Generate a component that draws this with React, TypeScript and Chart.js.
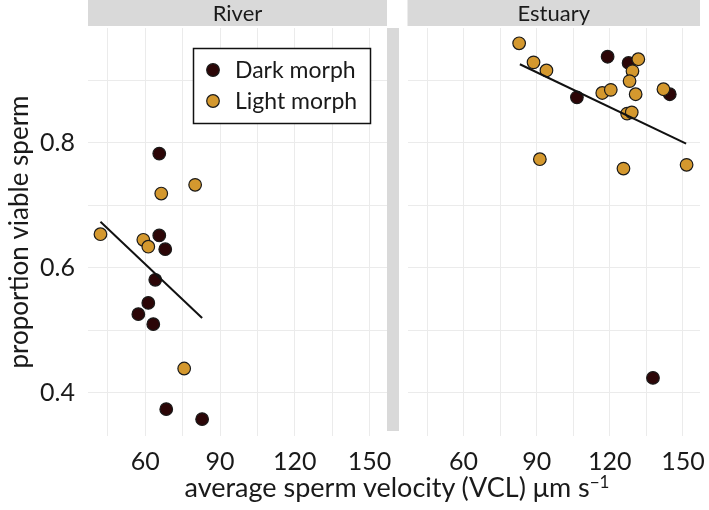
import React, { useEffect, useRef } from "react";
import { Chart, registerables } from "chart.js";

Chart.register(...registerables);

// ---------- data ----------
const panels = ["River", "Estuary"];
const seriesLabels = ["Dark morph", "Light morph"];

const riverDarkX = [65.6, 65.6, 68, 64, 61.2, 57.2, 63.2, 68.4, 82.8];
const riverDarkY = [0.783, 0.652, 0.63, 0.581, 0.544, 0.526, 0.51, 0.374, 0.358];
const riverLightX = [42, 59.2, 61.2, 66.4, 80, 75.6];
const riverLightY = [0.654, 0.645, 0.634, 0.719, 0.733, 0.439];
const riverFitX = [42, 82.8];
const riverFitY = [0.674, 0.52];

const estuaryDarkX = [119.1, 127.7, 106.5, 144.6, 137.7];
const estuaryDarkY = [0.938, 0.928, 0.873, 0.878, 0.424];
const estuaryLightX = [82.8, 88.7, 94.0, 91.3, 116.9, 120.4, 131.7, 129.3, 128.1, 130.6, 127.1, 129.0, 142.0, 125.6, 151.5];
const estuaryLightY = [0.9595, 0.929, 0.916, 0.774, 0.88, 0.885, 0.934, 0.915, 0.899, 0.878, 0.847, 0.849, 0.886, 0.759, 0.765];
const estuaryFitX = [83.1, 151.3];
const estuaryFitY = [0.926, 0.799];

const xMajorTicks = [60, 90, 120, 150];
const xMinorTicks = [45, 75, 105, 135];
const yMajorTicks = [0.4, 0.6, 0.8];
const yMinorTicks = [0.5, 0.7, 0.9];
const xRange = [37, 157];
const yRange = [0.331, 0.984];

const yTitle = "proportion viable sperm";

// ---------- styles ----------
const FONT = "Lato, 'Open Sans', sans-serif";
const DARK = "#2c0607";
const LIGHT = "#d4982e";
const GRID = "#ebebeb";
const STRIP = "#d9d9d9";
const TEXT = "#1a1a1a";

const zip = (xs: number[], ys: number[]) => xs.map((x, i) => ({ x, y: ys[i] }));

function makeDatasets(dx: number[], dy: number[], lx: number[], ly: number[], fx: number[], fy: number[]) {
  const pt = {
    pointRadius: 6.3,
    pointBorderWidth: 1.2,
    pointBorderColor: "#1a1a1a",
    showLine: false,
  };
  return [
    { label: "fit", data: zip(fx, fy), showLine: true, pointRadius: 0, borderColor: "#111", borderWidth: 2, order: 0 },
    { label: seriesLabels[1], data: zip(lx, ly), backgroundColor: LIGHT, pointBackgroundColor: LIGHT, ...pt, order: 1 },
    { label: seriesLabels[0], data: zip(dx, dy), backgroundColor: DARK, pointBackgroundColor: DARK, ...pt, order: 2 },
  ];
}

const stripPlugin = (title: string, drawBar: boolean) => ({
  id: "strip",
  beforeDraw(chart: any) {
    const { ctx, chartArea } = chart;
    ctx.save();
    ctx.fillStyle = STRIP;
    ctx.fillRect(chartArea.left, 0, chartArea.right - chartArea.left, 26);
    if (drawBar) ctx.fillRect(chartArea.right, 28, 12, 403);
    ctx.fillStyle = TEXT;
    ctx.font = `22px ${FONT}`;
    ctx.textAlign = "center";
    ctx.textBaseline = "middle";
    ctx.fillText(title, (chartArea.left + chartArea.right) / 2, 14);
    ctx.restore();
  },
});

const legendPlugin = {
  id: "boxLegend",
  afterDatasetsDraw(chart: any) {
    const { ctx } = chart;
    ctx.save();
    ctx.fillStyle = "#fff";
    ctx.fillRect(193.5, 48.5, 177, 75);
    ctx.strokeStyle = "#111";
    ctx.lineWidth = 1.5;
    ctx.strokeRect(193.5, 48.5, 177, 75);
    const items = [
      { label: seriesLabels[0], color: DARK, y: 70 },
      { label: seriesLabels[1], color: LIGHT, y: 101 },
    ];
    items.forEach((it) => {
      ctx.beginPath();
      ctx.arc(213, it.y, 6.3, 0, Math.PI * 2);
      ctx.fillStyle = it.color;
      ctx.fill();
      ctx.lineWidth = 1.2;
      ctx.strokeStyle = "#1a1a1a";
      ctx.stroke();
      ctx.fillStyle = TEXT;
      ctx.font = `23px ${FONT}`;
      ctx.textAlign = "left";
      ctx.textBaseline = "middle";
      ctx.fillText(it.label, 235, it.y + 1);
    });
    ctx.restore();
  },
};

function makeConfig(panelIndex: number): any {
  const isLeft = panelIndex === 0;
  const datasets = isLeft
    ? makeDatasets(riverDarkX, riverDarkY, riverLightX, riverLightY, riverFitX, riverFitY)
    : makeDatasets(estuaryDarkX, estuaryDarkY, estuaryLightX, estuaryLightY, estuaryFitX, estuaryFitY);
  const xTicks = [...xMinorTicks, ...xMajorTicks].sort((a, b) => a - b);
  const yTicks = [...yMinorTicks, ...yMajorTicks].sort((a, b) => a - b);
  return {
    type: "scatter",
    data: { datasets },
    options: {
      animation: false,
      responsive: false,
      events: [],
      layout: { padding: { top: 28, left: 0, right: isLeft ? 13 : 9, bottom: 0 } },
      plugins: { legend: { display: false }, tooltip: { enabled: false } },
      scales: {
        x: {
          type: "linear",
          min: xRange[0],
          max: xRange[1],
          afterBuildTicks: (s: any) => {
            s.ticks = xTicks.map((v) => ({ value: v }));
          },
          afterFit: (s: any) => {
            s.height = 74;
            s.paddingLeft = 0;
            s.paddingRight = 0;
          },
          grid: { color: GRID, lineWidth: 1, drawTicks: false },
          border: { display: false },
          ticks: {
            padding: 11,
            color: TEXT,
            font: { family: FONT, size: 25 },
            maxRotation: 0,
            autoSkip: false,
            callback: (v: number) => (xMajorTicks.includes(v) ? String(v) : ""),
          },
        },
        y: {
          type: "linear",
          min: yRange[0],
          max: yRange[1],
          afterBuildTicks: (s: any) => {
            s.ticks = yTicks.map((v) => ({ value: v }));
          },
          afterFit: (s: any) => {
            s.width = isLeft ? 88 : 0;
            s.paddingTop = 0;
            s.paddingBottom = 0;
          },
          grid: { color: GRID, lineWidth: 1, drawTicks: false },
          border: { display: false },
          title: isLeft
            ? { display: true, text: yTitle, color: TEXT, font: { family: FONT, size: 26 }, padding: { top: 4, bottom: 0 } }
            : { display: false },
          ticks: {
            display: isLeft,
            padding: 13,
            color: TEXT,
            font: { family: FONT, size: 25 },
            autoSkip: false,
            callback: (v: number) => (yMajorTicks.some((t) => Math.abs(t - v) < 1e-6) ? v.toFixed(1) : ""),
          },
        },
      },
    },
    plugins: isLeft ? [stripPlugin(panels[0], true), legendPlugin] : [stripPlugin(panels[1], false)],
  };
}

export default function App() {
  const ref1 = useRef<HTMLCanvasElement>(null);
  const ref2 = useRef<HTMLCanvasElement>(null);

  useEffect(() => {
    document.body.style.margin = "0";
    document.body.style.background = "#fff";
    const c1 = new Chart(ref1.current!, makeConfig(0));
    const c2 = new Chart(ref2.current!, makeConfig(1));
    return () => {
      c1.destroy();
      c2.destroy();
    };
  }, []);

  return (
    <div style={{ position: "relative", width: 709, height: 510, background: "#fff", overflow: "hidden" }}>
      <canvas ref={ref1} width={400} height={510} style={{ position: "absolute", left: 0, top: 0 }} />
      <canvas ref={ref2} width={309} height={510} style={{ position: "absolute", left: 400, top: 0 }} />
      <div
        style={{
          position: "absolute",
          left: 397,
          top: 472,
          transform: "translateX(-50%)",
          whiteSpace: "nowrap",
          fontFamily: FONT,
          fontSize: 27,
          lineHeight: "30px",
          color: TEXT,
        }}
      >
        average sperm velocity (VCL) μm s
        <sup style={{ fontSize: 17, verticalAlign: "0.55em", lineHeight: 0 }}>−1</sup>
      </div>
    </div>
  );
}
